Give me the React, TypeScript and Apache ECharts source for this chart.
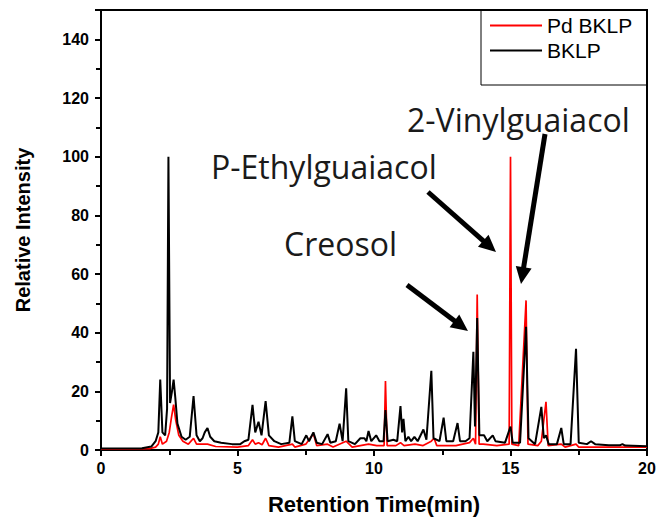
import React, { useEffect, useRef } from "react";
import * as echarts from "echarts";

// BKLP (black) chromatogram: retention time (min) and relative intensity
const bklpTime = [0, 1.5, 1.85, 2.0, 2.1, 2.17, 2.25, 2.35, 2.42, 2.47, 2.53, 2.6, 2.66, 2.72, 2.8, 2.95, 3.1, 3.25, 3.39, 3.5, 3.62, 3.72, 3.8, 3.9, 4.0, 4.15, 4.4, 4.8, 5.1, 5.25, 5.4, 5.55, 5.65, 5.77, 5.88, 6.03, 6.15, 6.35, 6.6, 6.9, 7.01, 7.1, 7.35, 7.52, 7.62, 7.78, 7.9, 8.1, 8.3, 8.4, 8.6, 8.74, 8.85, 8.98, 9.06, 9.3, 9.5, 9.65, 9.72, 9.8, 9.9, 10.08, 10.2, 10.35, 10.42, 10.5, 10.71, 10.85, 10.97, 11.03, 11.08, 11.15, 11.26, 11.36, 11.48, 11.6, 11.81, 11.92, 12.1, 12.18, 12.4, 12.55, 12.65, 12.9, 13.06, 13.15, 13.35, 13.5, 13.64, 13.7, 13.78, 13.86, 14.03, 14.15, 14.35, 14.45, 14.8, 15.0, 15.08, 15.35, 15.57, 15.66, 15.9, 16.13, 16.22, 16.3, 16.4, 16.7, 16.86, 16.95, 17.2, 17.4, 17.5, 17.8, 17.95, 18.1, 18.6, 19.0, 19.1, 19.2, 20];
const bklpIntensity = [0.5, 0.6, 1.2, 3, 6, 24, 6, 5, 14, 100, 16, 20, 24, 18, 9, 4.5, 3.5, 4.5, 18.4, 5, 3, 4, 6, 7.5, 4.5, 3, 2.5, 2, 2, 3, 3.5, 15.4, 6, 9.6, 5, 16.7, 5, 3, 2, 2.5, 11.5, 3, 2, 5, 3, 6, 2.5, 2, 5.4, 2.5, 3, 9, 3, 21, 3, 2, 4, 4, 3, 6.5, 3, 5, 3, 3, 13.6, 3, 3.5, 3, 15, 6, 10.6, 3, 4.5, 3, 4.5, 3, 7, 3.5, 27, 4, 3, 11, 3, 3, 9.2, 3, 3, 4, 33.5, 8, 45, 5, 5, 3, 5, 3, 2.5, 8, 2.5, 2.5, 42, 4, 2, 14.7, 4, 5, 2, 2, 7.5, 2, 2, 34.5, 2.5, 2, 3, 2, 1.6, 1.6, 2, 1.5, 1.3];

// Pd BKLP (red) chromatogram
const pdTime = [0, 1.8, 2.0, 2.1, 2.17, 2.25, 2.4, 2.5, 2.58, 2.66, 2.74, 2.85, 3.0, 3.2, 3.39, 3.5, 3.9, 4.2, 5.0, 5.4, 5.55, 5.65, 5.77, 5.9, 6.03, 6.15, 6.5, 7.01, 7.1, 7.5, 7.78, 7.9, 8.3, 8.5, 8.98, 9.2, 9.8, 10.1, 10.37, 10.42, 10.48, 10.8, 10.97, 11.1, 11.5, 11.8, 12.1, 12.2, 12.3, 12.6, 13.0, 13.5, 13.64, 13.72, 13.78, 13.85, 14.0, 14.5, 14.95, 15.0, 15.05, 15.3, 15.57, 15.64, 16.0, 16.13, 16.3, 16.38, 16.86, 17.0, 17.4, 17.5, 18, 20];
const pdIntensity = [0.3, 0.5, 1, 2, 4.5, 2, 3, 6, 11, 15.5, 10, 5, 3, 2, 4, 2, 2, 1.2, 1, 1.5, 3.5, 2, 2.5, 1.8, 4, 1.5, 1, 2, 1, 2, 5.5, 1.5, 2, 1, 3, 1, 2, 1.5, 1.5, 23.5, 1.5, 1.5, 2.5, 1.5, 2, 1.5, 3, 4, 1.5, 1.5, 1.5, 2.5, 4, 2, 53, 2, 2, 1.5, 2, 100, 2, 1.5, 51, 2, 1.5, 3, 16.4, 1.5, 2, 1, 2, 1, 1, 1];

const seriesNames = ["Pd BKLP", "BKLP"];
const annotationLabels = ["Creosol", "P-Ethylguaiacol", "2-Vinylguaiacol"];

function arrow(x1: number, y1: number, x2: number, y2: number) {
  const dx = x2 - x1, dy = y2 - y1;
  const L = Math.hypot(dx, dy);
  const ux = dx / L, uy = dy / L;
  const hl = 17, hw = 8;
  const bx = x2 - ux * hl, by = y2 - uy * hl;
  const px = -uy, py = ux;
  return {
    type: "group",
    children: [
      { type: "line", shape: { x1, y1, x2: bx + ux * 2, y2: by + uy * 2 }, style: { stroke: "#000", lineWidth: 5 } },
      {
        type: "polygon",
        shape: { points: [[x2, y2], [bx + px * hw, by + py * hw], [bx - px * hw, by - py * hw]] },
        style: { fill: "#000" },
      },
    ],
  };
}

export default function App() {
  const ref = useRef<HTMLDivElement>(null);
  useEffect(() => {
    if (!ref.current) return;
    const chart = echarts.init(ref.current, null, { renderer: "svg" });
    const tickFont = { fontFamily: "Liberation Sans, Arial, sans-serif", fontWeight: "bold", fontSize: 16, color: "#000" };
    const annFont = { fontFamily: "Open Sans, sans-serif", fontSize: 32, fill: "#1a1a1a" };
    chart.setOption({
      animation: false,
      backgroundColor: "#fff",
      grid: { left: 101, right: 13, top: 10, bottom: 69, show: true, borderColor: "#000", borderWidth: 2 },
      legend: {
        left: 481,
        top: 10,
        orient: "vertical",
        itemWidth: 52,
        itemHeight: 10,
        itemGap: 4,
        padding: [5, 10, 6, 9],
        data: seriesNames.map((n) => ({ name: n, icon: "path://M0,4 L52,4 L52,6 L0,6 Z" })),
        textStyle: { fontFamily: "Liberation Sans, Arial, sans-serif", fontSize: 21, lineHeight: 20, color: "#000" },
      },
      xAxis: {
        type: "value",
        min: 0,
        max: 20,
        interval: 5,
        name: "Retention Time(min)",
        nameLocation: "middle",
        nameGap: 43,
        nameTextStyle: { ...tickFont, fontSize: 22 },
        axisLine: { lineStyle: { color: "#000", width: 2 } },
        axisTick: { show: true, length: 6, lineStyle: { width: 2, color: "#000" } },
        minorTick: { show: true, splitNumber: 2, length: 5, lineStyle: { width: 2, color: "#000" } },
        axisLabel: { ...tickFont, margin: 10 },
        splitLine: { show: false },
      },
      yAxis: {
        type: "value",
        min: 0,
        max: 150,
        interval: 20,
        name: "Relative Intensity",
        nameLocation: "middle",
        nameGap: 68,
        nameRotate: 90,
        nameTextStyle: { ...tickFont, fontSize: 20 },
        axisLine: { lineStyle: { color: "#000", width: 2 } },
        axisTick: { show: true, length: 6, lineStyle: { width: 2, color: "#000" } },
        minorTick: { show: true, splitNumber: 2, length: 5, lineStyle: { width: 2, color: "#000" } },
        axisLabel: { ...tickFont, margin: 12, showMaxLabel: false },
        splitLine: { show: false },
      },
      series: [
        {
          name: seriesNames[0],
          type: "line",
          symbol: "none",
          data: pdTime.map((t, i) => [t, pdIntensity[i]]),
          lineStyle: { color: "#ff0000", width: 1.7 },
          itemStyle: { color: "#ff0000" },
        },
        {
          name: seriesNames[1],
          type: "line",
          symbol: "none",
          data: bklpTime.map((t, i) => [t, bklpIntensity[i]]),
          lineStyle: { color: "#000", width: 2 },
          itemStyle: { color: "#000" },
        },
      ],
      graphic: [
        { type: "rect", shape: { x: 481, y: 10, width: 166, height: 75 }, style: { fill: "none", stroke: "#000", lineWidth: 1 } },
        { type: "text", x: 284, y: 243, style: { text: annotationLabels[0], ...annFont, verticalAlign: "middle" } },
        { type: "text", x: 211, y: 166, style: { text: annotationLabels[1], ...annFont, verticalAlign: "middle" } },
        { type: "text", x: 407, y: 119, style: { text: annotationLabels[2], ...annFont, verticalAlign: "middle" } },
        arrow(407, 285, 468, 331),
        arrow(428, 192, 496, 252),
        arrow(545, 134, 521, 284),
      ],
    });
    return () => chart.dispose();
  }, []);
  return <div ref={ref} style={{ position: "fixed", left: 0, top: 0, width: 660, height: 520 }} />;
}
